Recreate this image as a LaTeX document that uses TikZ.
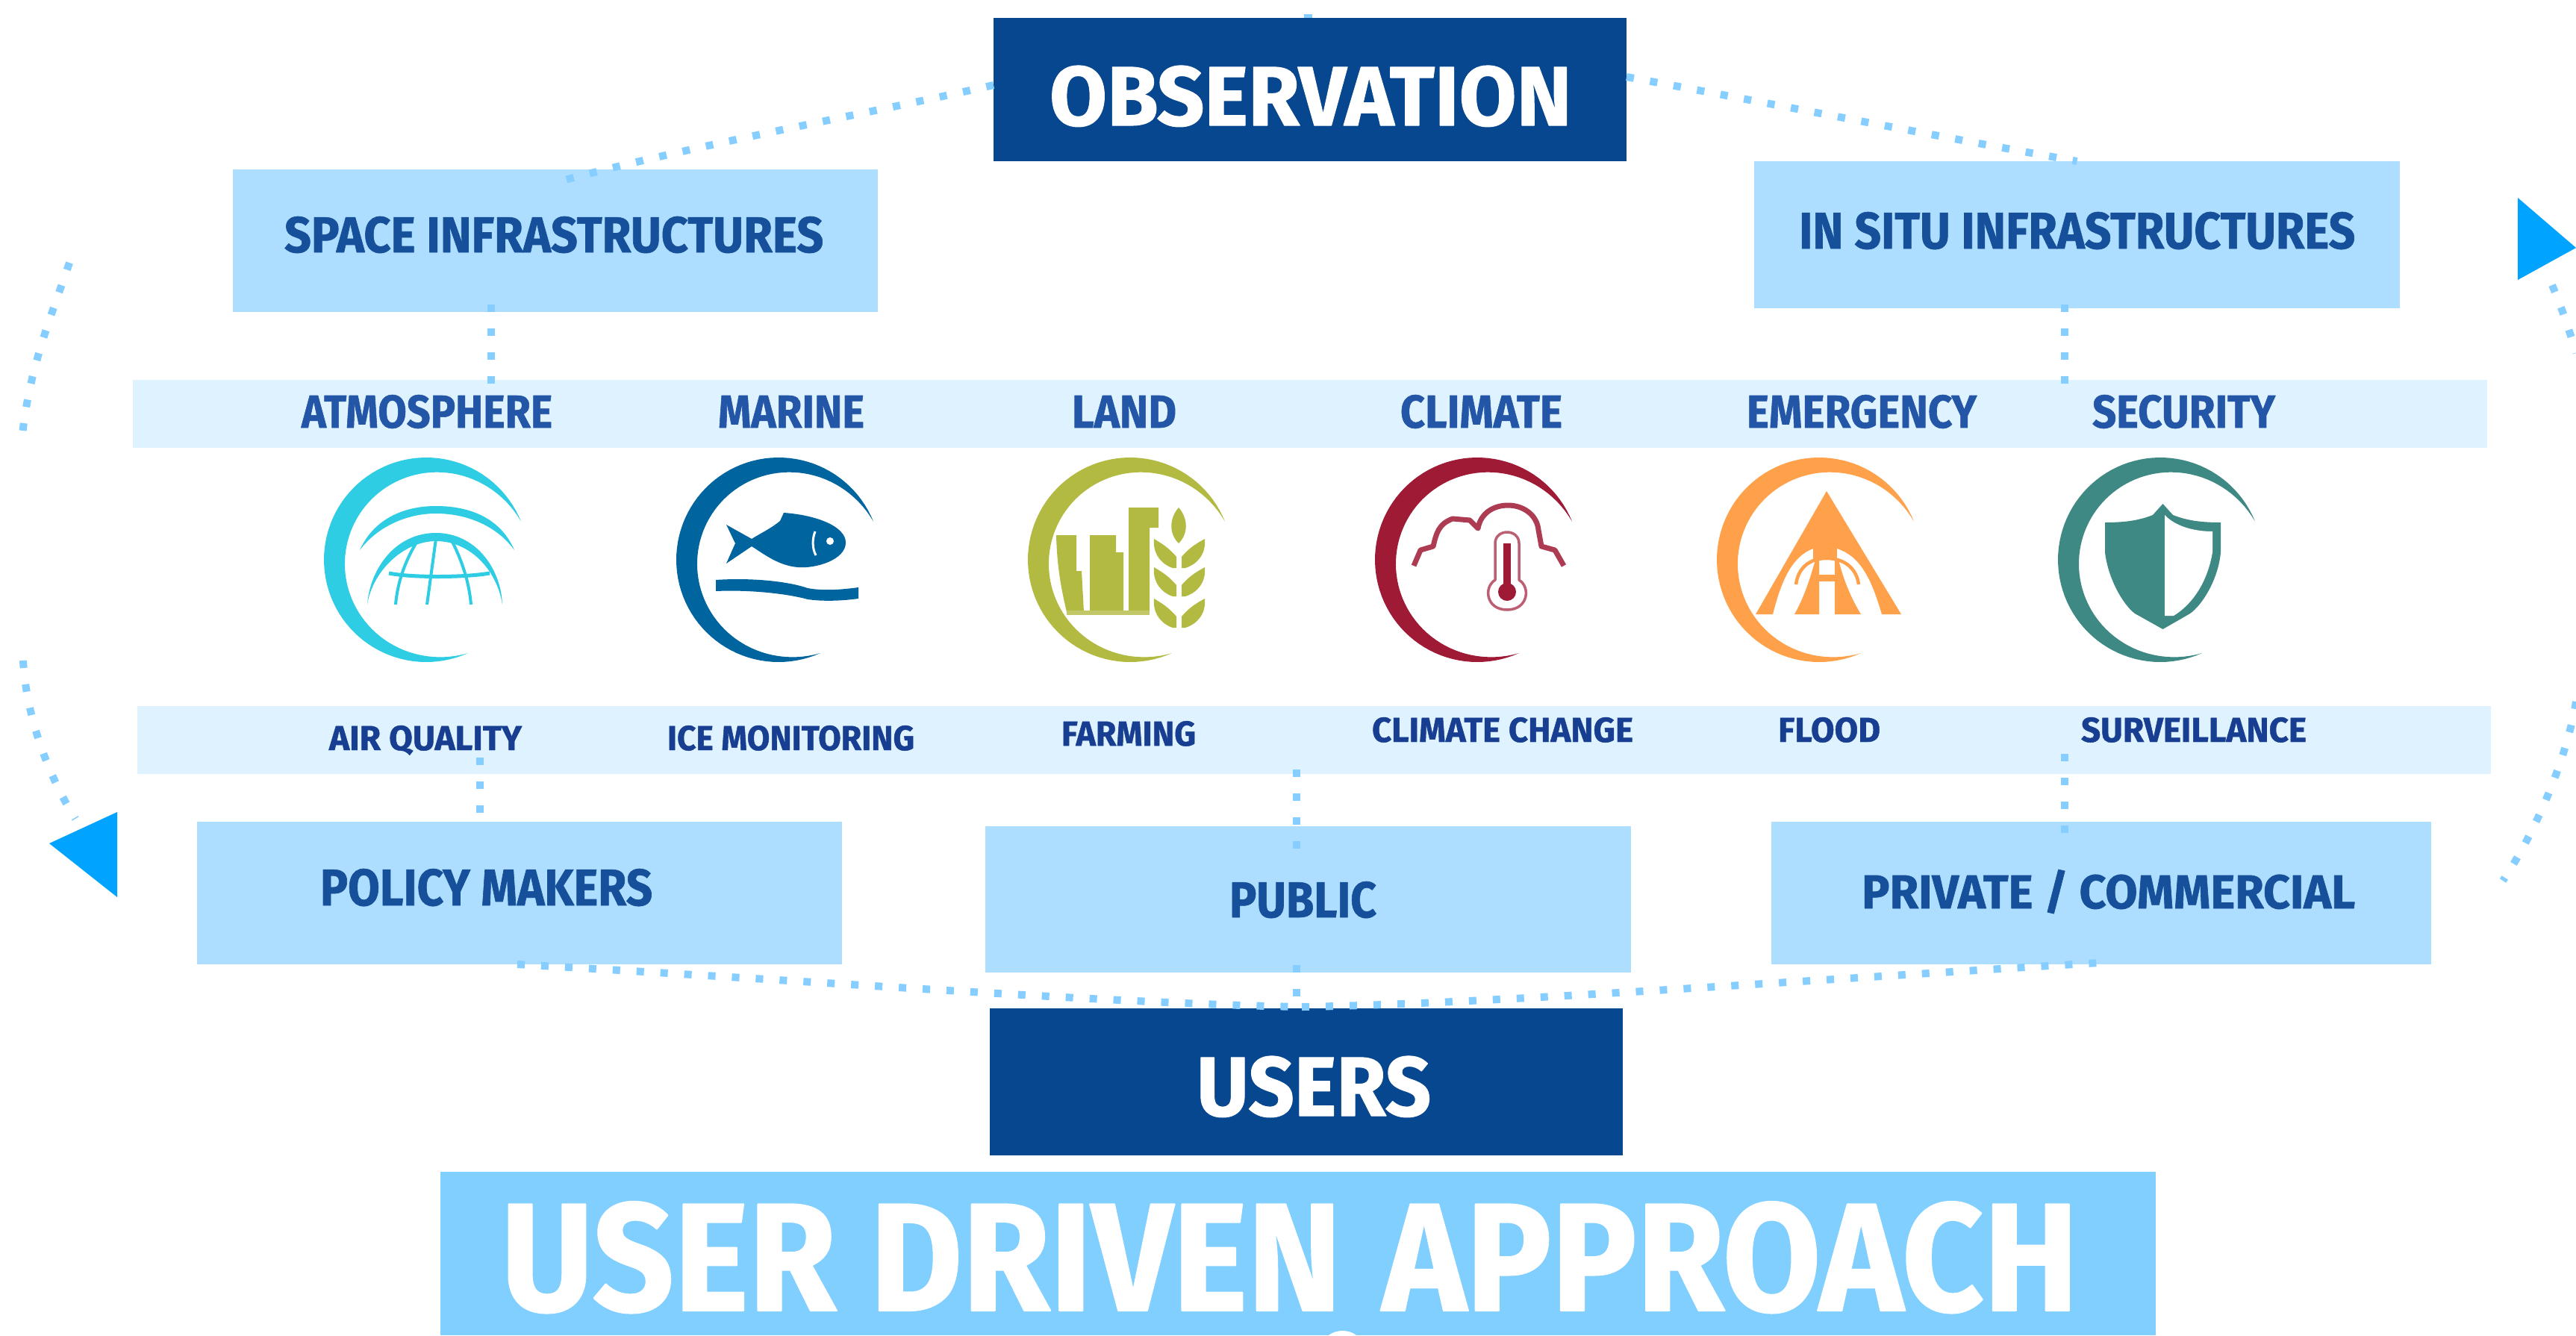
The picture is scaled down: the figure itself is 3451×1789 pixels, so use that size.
\documentclass[tikz,border=0pt]{standalone}
\usepackage{graphicx}
\usepackage{fontspec}
\setmainfont{Fira Sans}
\newfontfamily\hd{Fira Sans}[BoldFeatures={FakeBold=1}]
\definecolor{navy}{HTML}{07478F}
\definecolor{lightbox}{HTML}{AEDEFF}
\definecolor{bandc}{HTML}{DFF2FF}
\definecolor{banner}{HTML}{80CFFF}
\definecolor{dotc}{HTML}{85CEFF}
\definecolor{tri}{HTML}{00A3FF}
\definecolor{ink}{HTML}{17509A}
\definecolor{inkband}{HTML}{2456A8}
\definecolor{ink2}{HTML}{173E91}
\definecolor{catm}{HTML}{2FCDE3}
\definecolor{cmar}{HTML}{00649F}
\definecolor{clan}{HTML}{B3BA42}
\definecolor{ccli}{HTML}{9F1A35}
\definecolor{cemg}{HTML}{FFA14A}
\definecolor{csec}{HTML}{3F8985}
\tikzset{
  panel/.style={rectangle,inner sep=0pt,outer sep=0pt},
  darkbox/.style={panel,fill=navy},
  lightb/.style={panel,fill=lightbox},
  bandb/.style={panel,fill=bandc},
  lbl/.style={inner sep=0pt,outer sep=0pt,anchor=base west},
  dotline/.style={draw=dotc,line width=10pt,dash pattern=on 10pt off 22pt},
}
\newcommand{\lab}[7]{\node[lbl,text=#7] (#1) at (#2,#3) {\resizebox{#4pt}{#5pt}{\hd\bfseries #6}};}
\newcommand{\boxn}[6]{\node[#1,minimum width=#5pt-#3pt,minimum height=#6pt-#4pt] (#2) at ({(#3+#5)/2},{(#4+#6)/2}) {};}
% crescent ring at centre #1,#2 in colour #3
\newcommand{\ringicon}[3]{\fill[#3,shift={(#1,#2)}]
  plot[domain=22:294,samples=80] ({137*cos(\x)},{-137*sin(\x)})
  -- plot[domain=294:22,samples=80] ({(137-29*sin(0.6618*(\x-22)))*cos(\x)},{-(137-29*sin(0.6618*(\x-22)))*sin(\x)}) -- cycle;}
\begin{document}
\begin{tikzpicture}[x=1pt,y=-1pt,line join=round]
\useasboundingbox (0,0) rectangle (3451,1789);
\fill[white] (0,0) rectangle (3451,1789);
% panels
\boxn{darkbox}{obs}{1331}{24}{2179}{216}
\boxn{lightb}{space}{312}{227}{1176}{418}
\boxn{lightb}{insitu}{2350}{216}{3215}{413}
\boxn{bandb}{bandtop}{178}{509}{3332}{600}
\boxn{bandb}{bandbot}{184}{946}{3337}{1037}
\boxn{lightb}{policy}{264}{1101}{1128}{1292}
\boxn{lightb}{public}{1320}{1107}{2185}{1303}
\boxn{lightb}{private}{2373}{1101}{3257}{1292}
\boxn{darkbox}{users}{1326}{1351}{2174}{1548}
\boxn{panel,fill=banner}{banner}{590}{1570}{2888}{1789}
\fill[white] (1780,1789) .. controls (1790,1781) and (1807,1781) .. (1817,1789) -- cycle;
% free ends
\coordinate (vspace) at (658,0);
\coordinate (vsitu) at (2766,0);
\coordinate (vpolicy) at (643,0);
\coordinate (vpublic) at (1737,0);
\coordinate (mid) at (1744,1349);
\coordinate (la) at (93,352); \coordinate (lb) at (30,582);
\coordinate (lc) at (31,885); \coordinate (ld) at (101,1097);
\coordinate (ra) at (3419,382); \coordinate (rb) at (3451,473);
\coordinate (rc) at (3451,940); \coordinate (rd) at (3353,1180);
\coordinate (ba) at (693,1292); \coordinate (bb) at (2812,1290);
% connectors
\fill[dotc] ([xshift=-8pt,yshift=5pt]obs.north) rectangle ([xshift=3pt]obs.north);
\draw[dotline] ([yshift=6pt]obs.west) .. controls (1150,155) and (950,190) .. ([xshift=5pt,yshift=-16pt]space.north);
\draw[dotline] ([yshift=17pt]obs.east) .. controls (2380,140) and (2580,180) .. (insitu.north);
\draw[dotline] ([yshift=10pt]vspace |- space.south) -- ([yshift=-5pt]vspace |- bandtop.north);
\draw[dotline] ([yshift=5pt]vsitu |- insitu.south) -- ([yshift=-5pt]vsitu |- bandtop.north);
\draw[dotline] ([yshift=22pt]vpolicy |- bandbot.south) -- ([yshift=11pt]vpolicy |- policy.north);
\draw[dotline] ([yshift=6pt]vpublic |- bandbot.south) -- ([yshift=-31pt]vpublic |- public.north);
\draw[dotline] ([yshift=27pt]vsitu |- bandbot.south) -- ([yshift=-16pt]vsitu |- private.north);
\draw[dotline] ([yshift=10pt]vpublic |- public.south) -- ([yshift=15pt]vpublic |- users.north);
\draw[dotline] (ba) .. controls (1100,1315) and (1500,1345) .. (mid);
\draw[dotline] (mid) .. controls (1990,1345) and (2390,1315) .. (bb);
\draw[dotline] (la) .. controls (70,420) and (40,490) .. (lb);
\draw[dotline] (lc) .. controls (35,960) and (65,1040) .. (ld);
\draw[dotline] (ra) .. controls (3432,413) and (3443,445) .. (rb);
\draw[dotline] (rc) .. controls (3440,1010) and (3400,1110) .. (rd);
% arrowheads
\coordinate (tl) at (66,1130);
\coordinate (tr) at (3451,332);
\fill[tri] (tl) -- (157,1088) -- (157,1202) -- cycle;
\fill[tri] (tr) -- (3373,265) -- (3373,375) -- cycle;
% labels
\lab{tobs}{1406}{168}{699}{80}{OBSERVATION}{white}
\lab{tspace}{381}{338}{722}{48}{SPACE INFRASTRUCTURES}{ink}
\lab{tsitu}{2410}{333}{745}{49}{IN SITU INFRASTRUCTURES}{ink}
\lab{tatm}{404}{573}{336}{44}{ATMOSPHERE}{inkband}
\lab{tmar}{962}{573}{196}{43}{MARINE}{inkband}
\lab{tlan}{1436}{573}{140}{43}{LAND}{inkband}
\lab{tcli}{1876}{573}{217}{44}{CLIMATE}{inkband}
\lab{temg}{2340}{573}{308}{44}{EMERGENCY}{inkband}
\lab{tsec}{2803}{573}{245}{44}{SECURITY}{inkband}
\lab{tair}{441}{1005}{258}{33}{AIR QUALITY}{ink2}
\lab{tice}{894}{1005}{331}{33}{ICE MONITORING}{ink2}
\lab{tfar}{1422}{999}{180}{33}{FARMING}{ink2}
\lab{tcha}{1838}{994}{350}{33}{CLIMATE CHANGE}{ink2}
\lab{tflo}{2382}{994}{137}{33}{FLOOD}{ink2}
\lab{tsur}{2788}{994}{302}{33}{SURVEILLANCE}{ink2}
\lab{tpol}{429}{1213}{445}{49}{POLICY MAKERS}{ink}
\lab{tpub}{1647}{1229}{197}{48}{PUBLIC}{ink}
\lab{tpri}{2494}{1217}{661}{52}{PRIVATE / COMMERCIAL}{ink}
\lab{tuse}{1603}{1495}{314}{80}{USERS}{white}
\lab{tban}{671}{1756}{2113}{146}{USER DRIVEN\kern0.05em{} APPROACH}{white}
% atmosphere
\ringicon{571}{750}{catm}
\begin{scope}[shift={(571,750)}]
\fill[catm] (-89,-13) .. controls (-70,-55) and (-30,-72) .. (13,-72) .. controls (60,-72) and (100,-55) .. (118,-13) .. controls (95,-45) and (55,-62) .. (13,-62) .. controls (-25,-62) and (-65,-45) .. (-89,-13) -- cycle;
\fill[catm] (-79,60) .. controls (-75,10) and (-40,-36) .. (13,-36) .. controls (65,-36) and (100,10) .. (102,60) .. controls (95,15) and (60,-25) .. (13,-25) .. controls (-30,-25) and (-72,15) .. (-79,60) -- cycle;
\draw[catm,line width=4pt] (-10,-28) .. controls (-25,-5) and (-38,25) .. (-41,60);
\draw[catm,line width=4pt] (13,-28) -- (1,60);
\draw[catm,line width=4pt] (33,-28) .. controls (45,-5) and (57,25) .. (60,60);
\draw[catm,line width=5pt] (-50,18) .. controls (-20,24) and (50,24) .. (85,18);
\end{scope}
% marine
\ringicon{1043}{750}{cmar}
\begin{scope}[shift={(1043,750)}]
\fill[cmar] (-70,-47) -- (-36,-28) .. controls (-25,-35) and (-10,-42) .. (2,-52) -- (7,-63) .. controls (50,-60) and (90,-45) .. (90,-23) .. controls (90,0) and (50,12) .. (26,10) .. controls (0,8) and (-20,-8) .. (-36,-18) -- (-70,5) -- (-58,-22) -- cycle;
\fill[white] (69,-25) circle[radius=5pt];
\draw[white,line width=3pt] (49,-38) .. controls (45,-28) and (45,-15) .. (50,-6);
\fill[cmar] (-84,27) .. controls (-40,24) and (10,28) .. (39,38) .. controls (60,42) and (85,40) .. (107,37) -- (107,52) .. controls (85,55) and (60,56) .. (39,53) .. controls (10,45) and (-40,40) .. (-84,42) -- cycle;
\end{scope}
% land
\ringicon{1514}{750}{clan}
\begin{scope}[shift={(1514,750)}]
\fill[clan] (-99,-33) -- (-72,-33) -- (-72,15) -- (-65,15) -- (-62,70) -- (-85,70) .. controls (-92,40) and (-98,10) .. (-99,-33) -- cycle;
\fill[clan] (-54,-33) -- (-19,-33) -- (-19,-10) -- (-9,-10) -- (-9,70) -- (-54,70) -- cycle;
\fill[clan] (-2,-70) -- (38,-70) -- (38,-43) -- (26,-43) -- (26,70) -- (-2,70) -- cycle;
\fill[clan!80] (-85,68) rectangle (26,74);
\fill[clan] (65,-70) .. controls (52,-55) and (52,-35) .. (65,-22) .. controls (78,-35) and (78,-55) .. (65,-70) -- cycle;
\foreach \yy in {-28,10,52}{
  \fill[clan] (32,\yy) .. controls (30,{\yy+20}) and (42,{\yy+34}) .. (57,{\yy+39}) -- (62,{\yy+39}) -- (62,{\yy+24}) .. controls (52,{\yy+12}) and (42,{\yy+6}) .. (32,\yy) -- cycle;
  \fill[clan] (100,\yy) .. controls (102,{\yy+20}) and (90,{\yy+34}) .. (74,{\yy+39}) -- (69,{\yy+39}) -- (69,{\yy+24}) .. controls (79,{\yy+12}) and (89,{\yy+6}) .. (100,\yy) -- cycle;
}
\end{scope}
% climate
\ringicon{1979}{750}{ccli}
\begin{scope}[shift={(1979,750)}]
\draw[ccli!85,line width=7pt] (-85,8) -- (-76,-13) -- (-59,-18) .. controls (-55,-35) and (-52,-48) .. (-33,-55) -- (-10,-53) -- (1,-42) .. controls (5,-65) and (25,-73) .. (41,-73) .. controls (62,-73) and (80,-60) .. (82,-40) -- (86,-18) -- (104,-13) -- (116,8);
\draw[ccli!70,line width=3.5pt] (24,27) -- (24,-22) .. controls (24,-42) and (56,-42) .. (56,-22) -- (56,27) .. controls (72,37) and (68,67) .. (40,67) .. controls (12,67) and (8,37) .. (24,27) -- cycle;
\draw[ccli,line width=10pt] (40,-22) -- (40,40);
\fill[ccli] (40,43) circle[radius=12pt];
\end{scope}
% emergency
\ringicon{2437}{750}{cemg}
\begin{scope}[shift={(2437,750)}]
\fill[cemg] (10,-92) -- (110,73) -- (84,73) .. controls (70,25) and (55,-5) .. (24,-15) -- (-8,-15) .. controls (-35,-5) and (-50,25) .. (-62,73) -- (-85,73) -- cycle;
\fill[cemg] (-8,-16) -- (24,-16) -- (24,0) -- (-8,0) -- cycle;
\draw[cemg,line width=4.5pt] (-31,33) .. controls (-28,10) and (-12,-2) .. (10,-2) .. controls (32,-2) and (50,10) .. (53,33);
\fill[cemg] (-33,73) -- (0,73) -- (0,0) -- (-5,0) .. controls (-12,25) and (-20,50) .. (-33,73) -- cycle;
\fill[cemg] (56,73) -- (21,73) -- (21,0) -- (26,0) .. controls (32,25) and (42,50) .. (56,73) -- cycle;
\fill[cemg] (0,20) rectangle (21,29);
\end{scope}
% security
\ringicon{2894}{750}{csec}
\begin{scope}[shift={(2894,750)}]
\fill[csec] (3.5,-75) -- (-10,-60) .. controls (-30,-52) and (-50,-50) .. (-74,-50) -- (-74,-10) .. controls (-70,25) and (-50,60) .. (-34,72) -- (3.5,93) -- (40,72) .. controls (57,60) and (78,25) .. (81,-10) -- (81,-50) .. controls (57,-50) and (37,-52) .. (17,-60) -- cycle;
\fill[white] (6,-60) .. controls (20,-45) and (45,-38) .. (70,-38) -- (70,-10) .. controls (65,20) and (50,55) .. (18,75) -- (6,75) -- cycle;
\end{scope}
\end{tikzpicture}
\end{document}
